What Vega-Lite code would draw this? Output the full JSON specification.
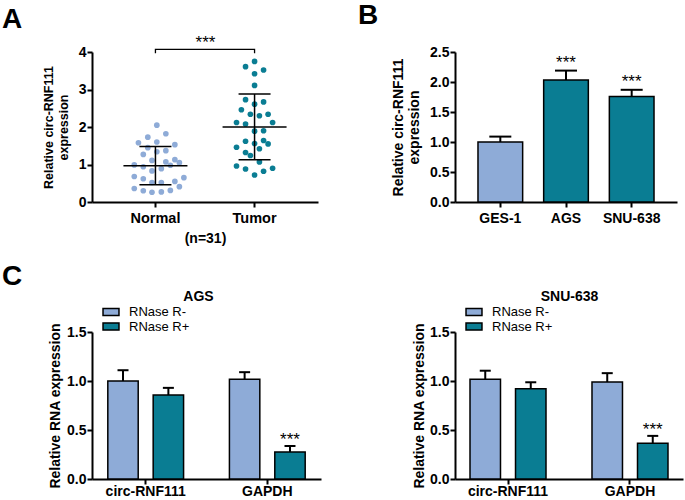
{
  "$schema": "https://vega.github.io/schema/vega-lite/v6.json",
  "padding": {"left": 2, "top": 2, "right": 2, "bottom": 0},
  "background": "white",
  "datasets": {
    "scatter": [
      {"group": "Normal", "value": 2.05, "jitter": 0.04},
      {"group": "Normal", "value": 1.73, "jitter": -0.22},
      {"group": "Normal", "value": 1.82, "jitter": 0.30},
      {"group": "Normal", "value": 1.58, "jitter": -0.49},
      {"group": "Normal", "value": 1.60, "jitter": 0.04},
      {"group": "Normal", "value": 1.53, "jitter": 0.56},
      {"group": "Normal", "value": 1.45, "jitter": -0.22},
      {"group": "Normal", "value": 1.27, "jitter": -0.35},
      {"group": "Normal", "value": 1.34, "jitter": 0.04},
      {"group": "Normal", "value": 1.37, "jitter": 0.30},
      {"group": "Normal", "value": 1.11, "jitter": -0.10},
      {"group": "Normal", "value": 1.07, "jitter": 0.30},
      {"group": "Normal", "value": 1.13, "jitter": 0.56},
      {"group": "Normal", "value": 1.05, "jitter": 0.69},
      {"group": "Normal", "value": 0.99, "jitter": -0.61},
      {"group": "Normal", "value": 0.94, "jitter": -0.35},
      {"group": "Normal", "value": 0.98, "jitter": 0.43},
      {"group": "Normal", "value": 0.83, "jitter": -0.10},
      {"group": "Normal", "value": 0.89, "jitter": 0.17},
      {"group": "Normal", "value": 0.68, "jitter": -0.61},
      {"group": "Normal", "value": 0.62, "jitter": -0.35},
      {"group": "Normal", "value": 0.65, "jitter": 0.82},
      {"group": "Normal", "value": 0.52, "jitter": -0.10},
      {"group": "Normal", "value": 0.52, "jitter": 0.17},
      {"group": "Normal", "value": 0.55, "jitter": 0.56},
      {"group": "Normal", "value": 0.36, "jitter": -0.61},
      {"group": "Normal", "value": 0.30, "jitter": -0.35},
      {"group": "Normal", "value": 0.26, "jitter": -0.10},
      {"group": "Normal", "value": 0.27, "jitter": 0.17},
      {"group": "Normal", "value": 0.31, "jitter": 0.43},
      {"group": "Normal", "value": 0.41, "jitter": 0.69},
      {"group": "Tumor", "value": 3.75, "jitter": 0},
      {"group": "Tumor", "value": 3.61, "jitter": -0.26},
      {"group": "Tumor", "value": 3.52, "jitter": 0.26},
      {"group": "Tumor", "value": 3.42, "jitter": 0},
      {"group": "Tumor", "value": 3.11, "jitter": 0},
      {"group": "Tumor", "value": 2.73, "jitter": -0.26},
      {"group": "Tumor", "value": 2.61, "jitter": 0},
      {"group": "Tumor", "value": 2.67, "jitter": 0.26},
      {"group": "Tumor", "value": 2.46, "jitter": -0.38},
      {"group": "Tumor", "value": 2.34, "jitter": -0.12},
      {"group": "Tumor", "value": 2.30, "jitter": 0.14},
      {"group": "Tumor", "value": 2.34, "jitter": 0.39},
      {"group": "Tumor", "value": 2.12, "jitter": -0.52},
      {"group": "Tumor", "value": 2.08, "jitter": -0.26},
      {"group": "Tumor", "value": 2.12, "jitter": 0.52},
      {"group": "Tumor", "value": 1.89, "jitter": 0},
      {"group": "Tumor", "value": 1.90, "jitter": 0.26},
      {"group": "Tumor", "value": 1.62, "jitter": -0.26},
      {"group": "Tumor", "value": 1.56, "jitter": 0},
      {"group": "Tumor", "value": 1.64, "jitter": 0.26},
      {"group": "Tumor", "value": 1.55, "jitter": 0.39},
      {"group": "Tumor", "value": 1.46, "jitter": -0.52},
      {"group": "Tumor", "value": 1.32, "jitter": -0.26},
      {"group": "Tumor", "value": 1.24, "jitter": -0.12},
      {"group": "Tumor", "value": 1.42, "jitter": 0.14},
      {"group": "Tumor", "value": 0.96, "jitter": -0.52},
      {"group": "Tumor", "value": 0.88, "jitter": -0.26},
      {"group": "Tumor", "value": 1.07, "jitter": 0.14},
      {"group": "Tumor", "value": 0.72, "jitter": 0},
      {"group": "Tumor", "value": 0.82, "jitter": 0.26},
      {"group": "Tumor", "value": 0.90, "jitter": 0.52}
    ],
    "summaryA": [
      {"group": "Normal", "mean": 0.97, "lo": 0.46, "hi": 1.48},
      {"group": "Tumor", "mean": 2.0, "lo": 1.13, "hi": 2.88}
    ],
    "bracket": [
      {"group": "Normal", "y": 3.97, "k": 1},
      {"group": "Normal", "y": 4.07, "k": 2},
      {"group": "Tumor", "y": 4.07, "k": 3},
      {"group": "Tumor", "y": 3.97, "k": 4}
    ],
    "cells": [
      {"cell": "GES-1", "mean": 1.0, "hi": 1.09, "sig": ""},
      {"cell": "AGS", "mean": 2.035, "hi": 2.19, "sig": "***"},
      {"cell": "SNU-638", "mean": 1.76, "hi": 1.87, "sig": "***"}
    ],
    "rnase": [
      {"panel": "AGS", "gene": "circ-RNF111", "treatment": "RNase R-", "mean": 1.0, "hi": 1.11, "sig": ""},
      {"panel": "AGS", "gene": "circ-RNF111", "treatment": "RNase R+", "mean": 0.857, "hi": 0.93, "sig": ""},
      {"panel": "AGS", "gene": "GAPDH", "treatment": "RNase R-", "mean": 1.017, "hi": 1.09, "sig": ""},
      {"panel": "AGS", "gene": "GAPDH", "treatment": "RNase R+", "mean": 0.276, "hi": 0.337, "sig": "***"},
      {"panel": "SNU-638", "gene": "circ-RNF111", "treatment": "RNase R-", "mean": 1.017, "hi": 1.105, "sig": ""},
      {"panel": "SNU-638", "gene": "circ-RNF111", "treatment": "RNase R+", "mean": 0.92, "hi": 0.987, "sig": ""},
      {"panel": "SNU-638", "gene": "GAPDH", "treatment": "RNase R-", "mean": 0.99, "hi": 1.08, "sig": ""},
      {"panel": "SNU-638", "gene": "GAPDH", "treatment": "RNase R+", "mean": 0.364, "hi": 0.44, "sig": "***"}
    ]
  },
  "bounds": "flush",
  "columns": 2,
  "spacing": {"row": 130, "column": 134},
  "concat": [
    {
      "width": 226,
      "height": 150,
      "title": {"text": "A", "anchor": "start", "frame": "group", "dx": -90, "fontSize": 28, "fontWeight": "bold", "offset": -1},
      "layer": [
        {
          "data": {"name": "scatter"},
          "mark": {"type": "circle", "size": 32, "opacity": 1},
          "encoding": {
            "x": {"field": "group", "type": "nominal", "sort": ["Normal", "Tumor"],
              "scale": {"paddingInner": 0.3, "paddingOuter": 0.29},
              "axis": {"orient": "bottom", "labelAngle": 0, "title": "(n=31)", "labelFontSize": 14.5, "titleFontSize": 14, "labelPadding": 4, "titlePadding": 7}},
            "xOffset": {"field": "jitter", "type": "quantitative", "scale": {"domain": [-1, 1]}},
            "y": {"field": "value", "type": "quantitative", "scale": {"domain": [0, 4], "nice": false},
              "axis": {"values": [0, 1, 2, 3, 4], "title": ["Relative circ-RNF111", "expression"], "titleFontSize": 12.5, "labelPadding": 1, "titlePadding": 8}},
            "color": {"field": "group", "type": "nominal", "scale": {"domain": ["Normal", "Tumor"], "range": ["#8EABD7", "#0A7D93"]}, "legend": null}
          }
        },
        {
          "data": {"name": "summaryA"},
          "mark": {"type": "rule", "color": "#000", "strokeWidth": 1.5},
          "encoding": {
            "x": {"field": "group", "type": "nominal", "axis": null},
            "y": {"field": "lo", "type": "quantitative", "scale": {"domain": [0, 4], "nice": false},
              "axis": {"values": [0, 1, 2, 3, 4], "title": ["Relative circ-RNF111", "expression"], "titleFontSize": 12.5, "labelPadding": 1, "titlePadding": 8}},
            "y2": {"field": "hi"}
          }
        },
        {
          "data": {"name": "summaryA"},
          "mark": {"type": "tick", "color": "#000", "size": 64, "thickness": 1.5, "opacity": 1},
          "encoding": {
            "x": {"field": "group", "type": "nominal", "axis": null},
            "y": {"field": "mean", "type": "quantitative", "scale": {"domain": [0, 4], "nice": false},
              "axis": {"values": [0, 1, 2, 3, 4], "title": ["Relative circ-RNF111", "expression"], "titleFontSize": 12.5, "labelPadding": 1, "titlePadding": 8}}
          }
        },
        {
          "data": {"name": "summaryA"},
          "mark": {"type": "tick", "color": "#000", "size": 32, "thickness": 1.5, "opacity": 1},
          "encoding": {
            "x": {"field": "group", "type": "nominal", "axis": null},
            "y": {"field": "lo", "type": "quantitative", "scale": {"domain": [0, 4], "nice": false},
              "axis": {"values": [0, 1, 2, 3, 4], "title": ["Relative circ-RNF111", "expression"], "titleFontSize": 12.5, "labelPadding": 1, "titlePadding": 8}}
          }
        },
        {
          "data": {"name": "summaryA"},
          "mark": {"type": "tick", "color": "#000", "size": 32, "thickness": 1.5, "opacity": 1},
          "encoding": {
            "x": {"field": "group", "type": "nominal", "axis": null},
            "y": {"field": "hi", "type": "quantitative", "scale": {"domain": [0, 4], "nice": false},
              "axis": {"values": [0, 1, 2, 3, 4], "title": ["Relative circ-RNF111", "expression"], "titleFontSize": 12.5, "labelPadding": 1, "titlePadding": 8}}
          }
        },
        {
          "data": {"name": "bracket"},
          "mark": {"type": "line", "color": "#000", "strokeWidth": 1.3, "clip": false},
          "encoding": {
            "x": {"field": "group", "type": "nominal",
              "axis": {"orient": "top", "title": "***", "titleFontWeight": "normal", "titleFontSize": 17, "labels": false, "ticks": false, "domain": false, "titlePadding": 1}},
            "y": {"field": "y", "type": "quantitative", "scale": {"domain": [0, 4], "nice": false},
              "axis": {"values": [0, 1, 2, 3, 4], "title": ["Relative circ-RNF111", "expression"], "titleFontSize": 12.5, "labelPadding": 1, "titlePadding": 8}},
            "order": {"field": "k"}
          }
        }
      ]
    },
    {
      "width": 222,
      "height": 150,
      "title": {"text": "B", "anchor": "start", "frame": "group", "dx": -97, "fontSize": 28, "fontWeight": "bold", "offset": 15},
      "data": {"name": "cells"},
      "layer": [
        {
          "mark": {"type": "bar", "stroke": "#000", "strokeWidth": 1.5},
          "encoding": {
            "x": {"field": "cell", "type": "nominal", "sort": ["GES-1", "AGS", "SNU-638"],
              "scale": {"paddingInner": 0.32, "paddingOuter": 0.35},
              "axis": {"orient": "bottom", "labelAngle": 0, "title": null, "labelPadding": 4}},
            "y": {"field": "mean", "type": "quantitative", "scale": {"domain": [0, 2.5], "nice": false},
              "axis": {"values": [0, 0.5, 1, 1.5, 2, 2.5], "format": ".1f", "title": ["Relative circ-RNF111", "expression"], "labelPadding": 1, "titlePadding": 8}},
            "color": {"field": "cell", "type": "nominal", "scale": {"domain": ["GES-1", "AGS", "SNU-638"], "range": ["#8EABD7", "#0A7D93", "#0A7D93"]}, "legend": null}
          }
        },
        {
          "mark": {"type": "rule", "color": "#000", "strokeWidth": 2},
          "encoding": {
            "x": {"field": "cell", "type": "nominal", "sort": ["GES-1", "AGS", "SNU-638"],
              "scale": {"paddingInner": 0.32, "paddingOuter": 0.35},
              "axis": {"orient": "bottom", "labelAngle": 0, "title": null, "labelPadding": 4}},
            "y": {"field": "mean", "type": "quantitative", "scale": {"domain": [0, 2.5], "nice": false},
              "axis": {"values": [0, 0.5, 1, 1.5, 2, 2.5], "format": ".1f", "title": ["Relative circ-RNF111", "expression"], "labelPadding": 1, "titlePadding": 8}},
            "y2": {"field": "hi"}
          }
        },
        {
          "mark": {"type": "tick", "color": "#000", "size": 22, "thickness": 2, "opacity": 1},
          "encoding": {
            "x": {"field": "cell", "type": "nominal", "sort": ["GES-1", "AGS", "SNU-638"],
              "scale": {"paddingInner": 0.32, "paddingOuter": 0.35},
              "axis": {"orient": "bottom", "labelAngle": 0, "title": null, "labelPadding": 4}},
            "y": {"field": "hi", "type": "quantitative", "scale": {"domain": [0, 2.5], "nice": false},
              "axis": {"values": [0, 0.5, 1, 1.5, 2, 2.5], "format": ".1f", "title": ["Relative circ-RNF111", "expression"], "labelPadding": 1, "titlePadding": 8}}
          }
        },
        {
          "mark": {"type": "text", "fontSize": 17, "baseline": "alphabetic", "dy": -3, "color": "#000"},
          "encoding": {
            "x": {"field": "cell", "type": "nominal", "sort": ["GES-1", "AGS", "SNU-638"],
              "scale": {"paddingInner": 0.32, "paddingOuter": 0.35},
              "axis": {"orient": "bottom", "labelAngle": 0, "title": null, "labelPadding": 4}},
            "y": {"field": "hi", "type": "quantitative", "scale": {"domain": [0, 2.5], "nice": false},
              "axis": {"values": [0, 0.5, 1, 1.5, 2, 2.5], "format": ".1f", "title": ["Relative circ-RNF111", "expression"], "labelPadding": 1, "titlePadding": 8}},
            "text": {"field": "sig"}
          }
        }
      ]
    },
    {
      "width": 229,
      "height": 147,
      "title": {"text": "C", "anchor": "start", "frame": "group", "dx": -90, "fontSize": 28, "fontWeight": "bold", "offset": -2},
      "data": {"name": "rnase"},
      "transform": [{"filter": "datum.panel === 'AGS'"}],
      "layer": [
        {
          "mark": {"type": "bar", "stroke": "#000", "strokeWidth": 1.5},
          "encoding": {
            "x": {"field": "gene", "type": "nominal", "sort": ["circ-RNF111", "GAPDH"],
              "scale": {"paddingInner": 0.377, "paddingOuter": 0.13},
              "axis": {"orient": "bottom", "labelAngle": 0, "title": null, "labelPadding": 0}},
            "xOffset": {"field": "treatment", "type": "nominal", "sort": ["RNase R-", "RNase R+"], "scale": {"paddingInner": 0.33, "paddingOuter": 0}},
            "y": {"field": "mean", "type": "quantitative", "scale": {"domain": [0, 1.5], "nice": false},
              "axis": {"values": [0, 0.5, 1, 1.5], "format": ".1f", "title": "Relative RNA expression", "labelPadding": 1, "titlePadding": 4}},
            "color": {"field": "treatment", "type": "nominal", "scale": {"domain": ["RNase R-", "RNase R+"], "range": ["#8EABD7", "#0A7D93"]},
              "legend": {"orient": "none", "legendX": 12, "legendY": -27, "title": null, "padding": 0, "symbolType": "M-1.33,-0.6H1.33V0.6H-1.33Z", "symbolSize": 144, "symbolStrokeColor": "#000", "symbolStrokeWidth": 1.5, "labelFontSize": 13, "labelColor": "#000", "labelFont": "Liberation Sans", "rowPadding": 0.5, "labelOffset": 11}}
          }
        },
        {
          "mark": {"type": "rule", "color": "#000", "strokeWidth": 2},
          "encoding": {
            "x": {"field": "gene", "type": "nominal", "sort": ["circ-RNF111", "GAPDH"], "axis": null},
            "xOffset": {"field": "treatment", "type": "nominal", "sort": ["RNase R-", "RNase R+"]},
            "y": {"field": "mean", "type": "quantitative", "scale": {"domain": [0, 1.5], "nice": false},
              "axis": {"values": [0, 0.5, 1, 1.5], "format": ".1f", "title": "Relative RNA expression", "labelPadding": 1, "titlePadding": 4}},
            "y2": {"field": "hi"}
          }
        },
        {
          "mark": {"type": "tick", "color": "#000", "size": 11, "thickness": 2, "opacity": 1},
          "encoding": {
            "x": {"field": "gene", "type": "nominal", "sort": ["circ-RNF111", "GAPDH"],
              "axis": {"orient": "top", "title": "AGS", "titleX": 106, "labels": false, "ticks": false, "domain": false, "titlePadding": 29}},
            "xOffset": {"field": "treatment", "type": "nominal", "sort": ["RNase R-", "RNase R+"]},
            "y": {"field": "hi", "type": "quantitative", "scale": {"domain": [0, 1.5], "nice": false},
              "axis": {"values": [0, 0.5, 1, 1.5], "format": ".1f", "title": "Relative RNA expression", "labelPadding": 1, "titlePadding": 4}}
          }
        },
        {
          "mark": {"type": "text", "fontSize": 17, "baseline": "alphabetic", "dy": -1, "color": "#000"},
          "encoding": {
            "x": {"field": "gene", "type": "nominal", "sort": ["circ-RNF111", "GAPDH"], "axis": null},
            "xOffset": {"field": "treatment", "type": "nominal", "sort": ["RNase R-", "RNase R+"]},
            "y": {"field": "hi", "type": "quantitative", "scale": {"domain": [0, 1.5], "nice": false},
              "axis": {"values": [0, 0.5, 1, 1.5], "format": ".1f", "title": "Relative RNA expression", "labelPadding": 1, "titlePadding": 4}},
            "text": {"field": "sig"}
          }
        }
      ]
    },
    {
      "width": 228,
      "height": 147,
      "data": {"name": "rnase"},
      "transform": [{"filter": "datum.panel === 'SNU-638'"}],
      "layer": [
        {
          "mark": {"type": "bar", "stroke": "#000", "strokeWidth": 1.5},
          "encoding": {
            "x": {"field": "gene", "type": "nominal", "sort": ["circ-RNF111", "GAPDH"],
              "scale": {"paddingInner": 0.377, "paddingOuter": 0.123},
              "axis": {"orient": "bottom", "labelAngle": 0, "title": null, "labelPadding": 0}},
            "xOffset": {"field": "treatment", "type": "nominal", "sort": ["RNase R-", "RNase R+"], "scale": {"paddingInner": 0.33, "paddingOuter": 0}},
            "y": {"field": "mean", "type": "quantitative", "scale": {"domain": [0, 1.5], "nice": false},
              "axis": {"values": [0, 0.5, 1, 1.5], "format": ".1f", "title": "Relative RNA expression", "labelPadding": 1, "titlePadding": 3}},
            "color": {"field": "treatment", "type": "nominal", "scale": {"domain": ["RNase R-", "RNase R+"], "range": ["#8EABD7", "#0A7D93"]},
              "legend": {"orient": "none", "legendX": 12, "legendY": -27, "title": null, "padding": 0, "symbolType": "M-1.33,-0.6H1.33V0.6H-1.33Z", "symbolSize": 144, "symbolStrokeColor": "#000", "symbolStrokeWidth": 1.5, "labelFontSize": 13, "labelColor": "#000", "labelFont": "Liberation Sans", "rowPadding": 0.5, "labelOffset": 11}}
          }
        },
        {
          "mark": {"type": "rule", "color": "#000", "strokeWidth": 2},
          "encoding": {
            "x": {"field": "gene", "type": "nominal", "sort": ["circ-RNF111", "GAPDH"], "axis": null},
            "xOffset": {"field": "treatment", "type": "nominal", "sort": ["RNase R-", "RNase R+"]},
            "y": {"field": "mean", "type": "quantitative", "scale": {"domain": [0, 1.5], "nice": false},
              "axis": {"values": [0, 0.5, 1, 1.5], "format": ".1f", "title": "Relative RNA expression", "labelPadding": 1, "titlePadding": 3}},
            "y2": {"field": "hi"}
          }
        },
        {
          "mark": {"type": "tick", "color": "#000", "size": 11, "thickness": 2, "opacity": 1},
          "encoding": {
            "x": {"field": "gene", "type": "nominal", "sort": ["circ-RNF111", "GAPDH"],
              "axis": {"orient": "top", "title": "SNU-638", "labels": false, "ticks": false, "domain": false, "titlePadding": 29}},
            "xOffset": {"field": "treatment", "type": "nominal", "sort": ["RNase R-", "RNase R+"]},
            "y": {"field": "hi", "type": "quantitative", "scale": {"domain": [0, 1.5], "nice": false},
              "axis": {"values": [0, 0.5, 1, 1.5], "format": ".1f", "title": "Relative RNA expression", "labelPadding": 1, "titlePadding": 3}}
          }
        },
        {
          "mark": {"type": "text", "fontSize": 17, "baseline": "alphabetic", "dy": -1, "color": "#000"},
          "encoding": {
            "x": {"field": "gene", "type": "nominal", "sort": ["circ-RNF111", "GAPDH"], "axis": null},
            "xOffset": {"field": "treatment", "type": "nominal", "sort": ["RNase R-", "RNase R+"]},
            "y": {"field": "hi", "type": "quantitative", "scale": {"domain": [0, 1.5], "nice": false},
              "axis": {"values": [0, 0.5, 1, 1.5], "format": ".1f", "title": "Relative RNA expression", "labelPadding": 1, "titlePadding": 3}},
            "text": {"field": "sig"}
          }
        }
      ]
    }
  ],
  "resolve": {"scale": {"color": "independent", "x": "independent", "y": "independent"}},
  "config": {
    "font": "Liberation Sans",
    "view": {"stroke": null},
    "axis": {"domainColor": "#000", "domainWidth": 2, "tickColor": "#000", "tickWidth": 2, "tickSize": 5, "labelFont": "Liberation Sans", "labelFontSize": 14, "labelFontWeight": "bold", "labelColor": "#000", "labelOverlap": false, "titleFont": "Liberation Sans", "titleFontSize": 14, "titleFontWeight": "bold", "titleColor": "#000", "grid": false},
    "title": {"font": "Liberation Sans", "color": "#000"},
    "legend": {"labelFont": "Liberation Sans"}
  }
}
